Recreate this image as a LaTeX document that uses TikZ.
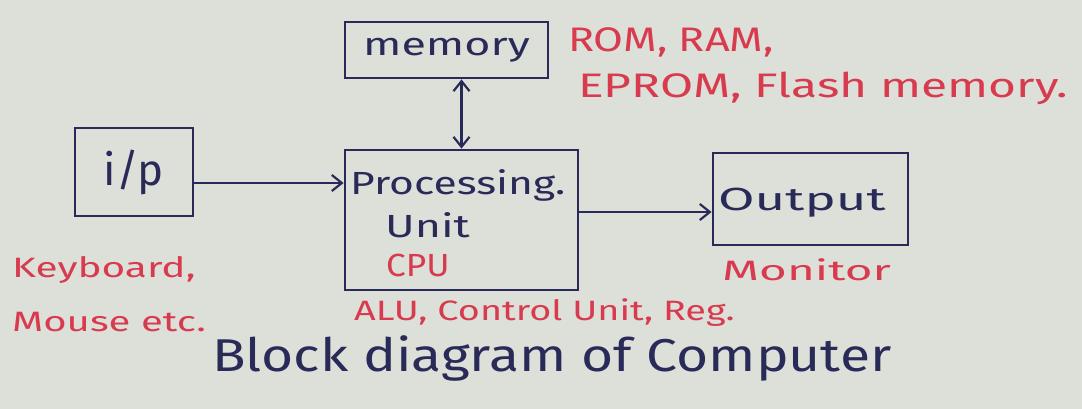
\documentclass[tikz,border=0pt]{standalone}
\usepackage{fontspec}
\setmainfont{Fira Sans}
\usetikzlibrary{arrows.meta}
\definecolor{paper}{RGB}{221,223,217}
\definecolor{ink}{RGB}{42,42,88}
\definecolor{redink}{RGB}{216,58,78}
\newcommand{\sx}[2]{\scalebox{#1}[1]{#2}}
\tikzset{
  box/.style={draw=ink, line width=2.8pt, inner sep=0pt},
  bluetxt/.style={text=ink, inner sep=0pt},
  redtxt/.style={text=redink, inner sep=0pt},
  tip/.tip={Straight Barb[length=10pt,width=16pt,line width=2.2pt]},
  conn/.style={draw=ink, line width=2.4pt, -tip},
  conn2/.style={draw=ink, line width=2.4pt, tip-tip}
}
\begin{document}
\begin{tikzpicture}[x=1pt,y=-1pt]
\fill[paper] (0,0) rectangle (1082,409);
\useasboundingbox (0,0) rectangle (1082,409);
% boxes
\node[box, minimum width=203pt, minimum height=56pt] (mem) at (446.5,50) {};
\node[box, minimum width=233pt, minimum height=140pt] (pu) at (461.5,220) {};
\node[box, minimum width=118pt, minimum height=88pt] (ip) at (134,172) {};
\node[box, minimum width=195pt, minimum height=92pt] (out) at (810.5,199) {};
% box texts
\node[bluetxt, font=\fontsize{32}{34}\selectfont] (memt) at (mem.center) {\sx{1.4}{memory}};
\node[bluetxt, font=\fontsize{44}{46}\selectfont] (ipt) at (ip.center) {i/p};
\node[bluetxt, font=\fontsize{32}{34}\selectfont, anchor=west] (put1) at (350,185) {\sx{1.33}{Processing.}};
\node[bluetxt, font=\fontsize{32}{34}\selectfont, anchor=west] (put2) at (385,225) {\sx{1.4}{Unit}};
\node[redtxt, font=\fontsize{32}{34}\selectfont, anchor=west] (cpu) at (386,265) {\sx{1.1}{CPU}};
\node[bluetxt, font=\fontsize{32}{34}\selectfont, anchor=west] (outt) at (718,203) {\sx{1.65}{Output}};
% connectors
\draw[conn2] (pu.north |- mem.south) -- (pu.north);
\draw[conn] (ip.east |- 0,183) -- (pu.west |- 0,183);
\draw[conn] (pu.east |- 0,212) -- (out.west |- 0,212);
% red notes
\node[redtxt, font=\fontsize{34}{36}\selectfont, anchor=west] (rom) at (568,42) {\sx{1.27}{ROM, RAM,}};
\node[redtxt, font=\fontsize{34}{36}\selectfont, anchor=west] (eprom) at (578,88) {\sx{1.41}{EPROM, Flash memory.}};
\node[redtxt, font=\fontsize{28}{30}\selectfont, anchor=west] (kb) at (12,270) {\sx{1.45}{Keyboard,}};
\node[redtxt, font=\fontsize{28}{30}\selectfont, anchor=west] (ms) at (12,322) {\sx{1.43}{Mouse etc.}};
\node[redtxt, font=\fontsize{28}{30}\selectfont, anchor=west] (mon) at (722,270) {\sx{1.7}{Monitor}};
\node[redtxt, font=\fontsize{28}{30}\selectfont, anchor=west] (alu) at (354,313) {\sx{1.35}{ALU, Control Unit, Reg.}};
% title
\node[bluetxt, font=\fontsize{46}{48}\selectfont, anchor=west] (title) at (212,358) {\sx{1.2}{Block diagram of Computer}};
\end{tikzpicture}
\end{document}
